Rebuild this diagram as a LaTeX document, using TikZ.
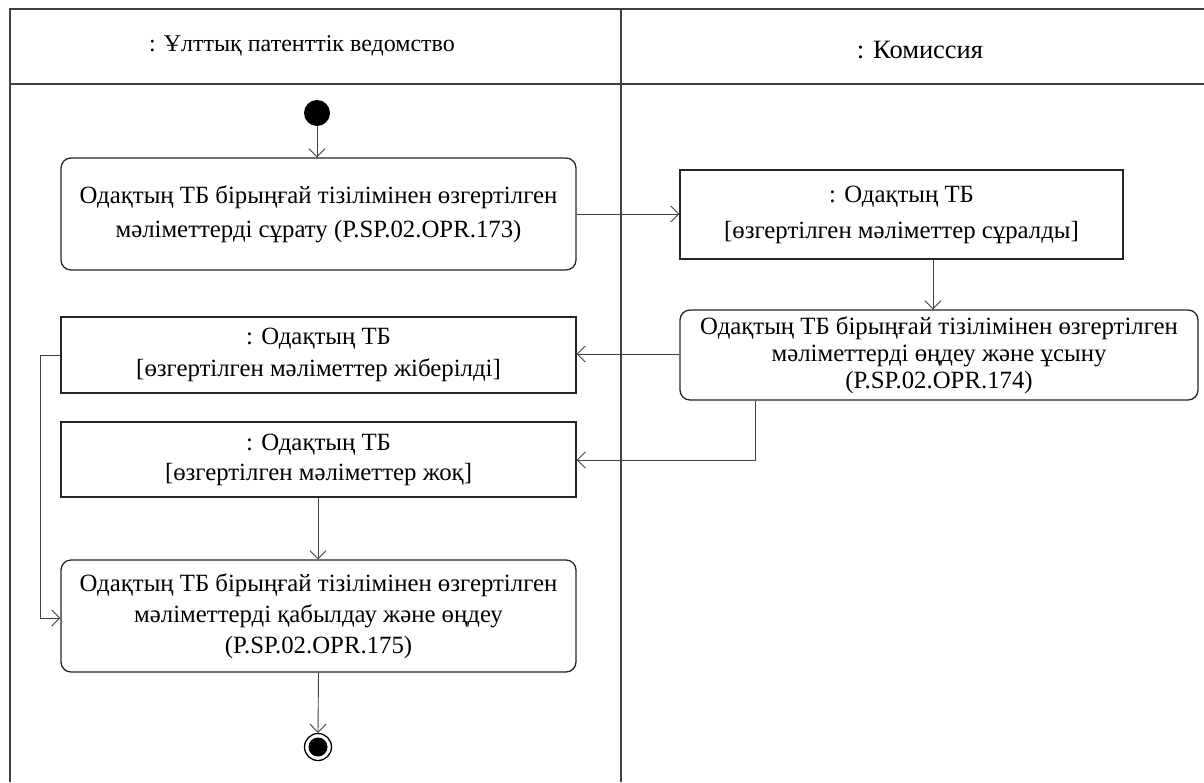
\documentclass[tikz,border=0pt]{standalone}
\usepackage{fontspec}
\setmainfont{Liberation Serif}
\usetikzlibrary{arrows.meta}
\tikzset{
  lane/.style={draw=black!75, line width=1.6pt},
  actbox/.style={draw=black!85, line width=1.3pt, rounded corners=10pt, fill=white, align=center, inner sep=0pt, font=\fontsize{24.8}{34}\selectfont},
  objbox/.style={draw=black!85, line width=1.3pt, fill=white, align=center, inner sep=0pt, font=\fontsize{24.8}{34}\selectfont},
  flow/.style={draw=black!75, line width=0.9pt, -{Straight Barb[length=8pt,width=16pt,line width=0.9pt]}},
  hdr/.style={font=\fontsize{24}{28}\selectfont, inner sep=0pt},
}
\begin{document}
\begin{tikzpicture}[x=1pt,y=-1pt]
\useasboundingbox (0,0) rectangle (1204,782);
% swimlanes
\draw[lane] (10,782) -- (10,9) -- (1204,9);
\draw[lane] (10,84) -- (1204,84);
\draw[lane] (621,9) -- (621,782);
\node[hdr] (h1) at (302,46) {: Ұлттық патенттік ведомство};
\node[hdr, font=\fontsize{26.5}{30}\selectfont] (h2) at (920,50) {: Комиссия};
% start
\node[circle, fill=black, minimum size=26pt, inner sep=0pt] (start) at (317,113) {};
% boxes
\node[actbox, minimum width=515pt, minimum height=112pt] (A) at (318.5,214) {Одақтың ТБ бірыңғай тізілімінен өзгертілген\\мәліметтерді сұрату (P.SP.02.OPR.173)};
\node[objbox, font=\fontsize{24.8}{36}\selectfont, minimum width=443pt, minimum height=89pt] (B) at (901.5,214.5) {: Одақтың ТБ\\{}[өзгертілген мәліметтер сұралды]};
\node[actbox, font=\fontsize{24.8}{27}\selectfont, minimum width=518pt, minimum height=90pt] (C) at (939,355) {Одақтың ТБ бірыңғай тізілімінен өзгертілген\\мәліметтерді өңдеу және ұсыну\\(P.SP.02.OPR.174)};
\node[objbox, font=\fontsize{24.8}{32}\selectfont, minimum width=515pt, minimum height=76pt] (D) at (318.5,355) {: Одақтың ТБ\\{}[өзгертілген мәліметтер жіберілді]};
\node[objbox, font=\fontsize{24.8}{30}\selectfont, minimum width=515pt, minimum height=75pt] (E) at (318.5,459.5) {: Одақтың ТБ\\{}[өзгертілген мәліметтер жоқ]};
\node[actbox, font=\fontsize{24.8}{31}\selectfont, minimum width=515pt, minimum height=112pt] (F) at (318.5,616) {Одақтың ТБ бірыңғай тізілімінен өзгертілген\\мәліметтерді қабылдау және өңдеу\\(P.SP.02.OPR.175)};
% end
\node[circle, draw=black, line width=1.3pt, minimum size=27pt, inner sep=0pt] (end) at (318,747) {};
\node[circle, fill=black, minimum size=19pt, inner sep=0pt] (endin) at (end.center) {};
% flows
\draw[flow] (start) -- (start |- A.north);
\draw[flow] (A.east |- 0,214) -- (B.west |- 0,214);
\draw[flow] (B.south -| 933,0) -- (C.north -| 933,0);
\draw[flow] (C.west |- 0,354) -- (D.east |- 0,354);
\coordinate (c1) at (755,400);
\draw[flow] (C.south -| c1) -- (755,460) -- (E.east |- 0,460);
\draw[flow] (E.south -| 318,0) -- (F.north -| 318,0);
\draw[flow] (D.west) -- (40,355) -- (40,618) -- (F.west |- 0,618);
\draw[flow] (F.south) -- (end.north);
\end{tikzpicture}
\end{document}
